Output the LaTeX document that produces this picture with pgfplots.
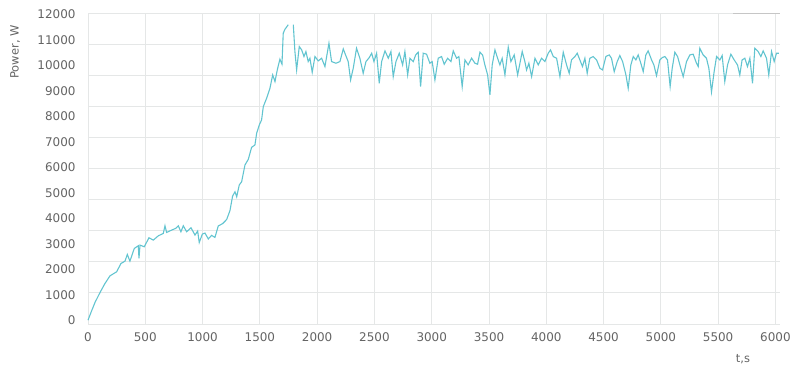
\documentclass[border=0pt]{standalone}
\usepackage{pgfplots}
\pgfplotsset{compat=1.18}
\usepackage{fontspec}
\setmainfont{DejaVu Sans}
\definecolor{linec}{RGB}{98,196,208}
\definecolor{gridc}{RGB}{229,231,231}
\definecolor{labc}{RGB}{100,100,100}
\begin{document}
\begin{tikzpicture}[x=1bp,y=1bp]
\path[use as bounding box] (0,0) rectangle (793,367);
\begin{axis}[
  at={(88bp,43bp)}, anchor=south west,
  scale only axis, width=692bp, height=311bp,
  xmin=0, xmax=6040, ymin=-150, ymax=12060,
  axis line style={draw=none},
  major tick length=0pt,
  xtick={0,500,...,6000},
  ytick={0,1000,...,12000},
  xmajorgrids=true,
  ymajorgrids=false,
  major grid style={gridc, line width=0.9bp},
  extra y ticks={-150,1071,2292,3513,4734,5955,7176,8397,9618,10839,12060},
  extra y tick labels={},
  extra y tick style={grid=major, major grid style={gridc, line width=0.9bp}},
  scaled ticks=false,
  /pgf/number format/1000 sep={},
  /pgf/number format/assume math mode=true,
  tick label style={font=\fontsize{12}{12}\selectfont, text=labc},
  yticklabel style={xshift=-9bp},
  xticklabel style={yshift=-5bp},
  unbounded coords=jump,
  clip=false,
]
\addplot[linec, line width=1.1bp] coordinates {
(0,0) (30,350) (61,695) (105,1088) (148,1441) (192,1741) (250,1900) (288,2227)
(323,2318) (343,2581) (366,2318) (404,2817) (439,2921) (445,2424) (454,2947)
(491,2882) (532,3235) (570,3144) (614,3313) (657,3406) (672,3706) (686,3445)
(730,3537) (765,3603) (788,3706) (811,3471) (832,3706) (861,3471) (899,3628)
(934,3340) (957,3498) (971,3050) (998,3380) (1021,3420) (1050,3190) (1079,3330)
(1108,3250) (1137,3700) (1175,3790) (1210,3950) (1239,4300) (1262,4873)
(1283,5042) (1298,4846) (1320,5306) (1341,5435) (1370,6092) (1399,6315)
(1428,6786) (1457,6878) (1472,7337) (1495,7664) (1515,7860) (1530,8384)
(1559,8712) (1588,9105) (1612,9629) (1632,9367) (1652,9825) (1675,10245)
(1693,10050) (1704,11267) (1719,11420) (1748,11600) (1770,nan) (1792,11600)
(1806,10546) (1821,9825) (1844,10743) (1865,10611) (1885,10350) (1902,10546)
(1922,10153) (1937,10284) (1957,9733) (1981,10350) (2010,10179) (2039,10284)
(2068,9956) (2103,10874) (2126,10153) (2164,10088) (2199,10153) (2228,10650)
(2248,10415) (2271,10153) (2292,9432) (2315,9890) (2344,10678) (2373,10284)
(2402,9694) (2426,10153) (2455,10310) (2476,10481) (2496,10153) (2519,10481)
(2542,9301) (2563,10153) (2592,10572) (2621,10284) (2644,10546) (2664,9563)
(2688,10153) (2717,10481) (2746,10022) (2766,10546) (2790,9629) (2810,10284)
(2839,10153) (2860,10415) (2882,10520) (2903,9170) (2926,10481) (2955,10442)
(2984,10088) (3004,10153) (3028,9432) (3057,10284) (3086,10350) (3109,10048)
(3139,10284) (3168,10153) (3188,10572) (3217,10284) (3237,10350) (3266,9170)
(3290,10218) (3318,10022) (3348,10284) (3377,10088) (3400,10048) (3421,10520)
(3444,10415) (3464,10022) (3488,9629) (3508,8843) (3528,10022) (3552,10611)
(3575,10284) (3595,10022) (3615,10284) (3639,9629) (3668,10717) (3691,10153)
(3720,10415) (3750,9629) (3770,10088) (3790,10546) (3813,10153) (3828,9825)
(3848,10088) (3872,9563) (3901,10284) (3930,10022) (3959,10284) (3988,10153)
(4017,10481) (4037,10611) (4061,10350) (4090,10284) (4119,9563) (4148,10520)
(4177,10022) (4200,9694) (4220,10218) (4250,10350) (4270,10481) (4293,10218)
(4316,9956) (4337,10284) (4357,9694) (4380,10284) (4409,10350) (4439,10218)
(4468,9890) (4491,9825) (4520,10350) (4549,10415) (4569,10284) (4593,9758)
(4619,10153) (4642,10389) (4666,10153) (4695,9629) (4715,9105) (4738,10022)
(4759,10350) (4782,10218) (4802,10415) (4825,10088) (4846,9758) (4869,10415)
(4889,10572) (4919,10218) (4939,10022) (4962,9600) (4991,10218) (5012,10310)
(5035,10350) (5058,10218) (5081,9170) (5099,9890) (5122,10520) (5146,10350)
(5174,9890) (5195,9563) (5224,10153) (5253,10415) (5282,10442) (5311,10088)
(5326,9956) (5340,10678) (5369,10415) (5398,10284) (5419,9890) (5442,8961)
(5465,9758) (5486,10350) (5515,10218) (5535,10389) (5558,9367) (5582,10022)
(5611,10442) (5640,10218) (5669,10022) (5689,9629) (5709,10218) (5733,10284)
(5756,9956) (5777,10284) (5800,9301) (5820,10678) (5849,10546) (5873,10350)
(5893,10572) (5922,10284) (5942,9629) (5966,10546) (5989,10153) (6009,10481)
(6029,10481)
};
\draw[gray!45, line width=0.8bp] (axis cs:5630,12060) -- (axis cs:6040,12060);
\end{axis}
\node[rotate=90, text=labc, font=\fontsize{11.5}{11.5}\selectfont] at (15,315) {Power, W};
\node[text=labc, font=\fontsize{11.5}{11.5}\selectfont] at (743,8) {t,s};
\end{tikzpicture}
\end{document}
